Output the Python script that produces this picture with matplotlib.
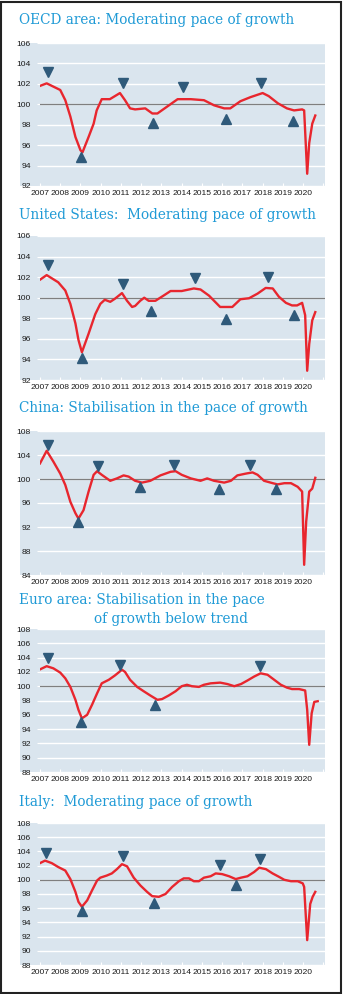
import matplotlib
matplotlib.use("Agg")
import matplotlib.pyplot as plt
from matplotlib.patches import Rectangle

# colours
RED = "#e8262e"
BG = "#dae5ee"
MARK = "#2f5a7a"
TITLE = "#1f9ad6"

# --- data (year, CLI value) ---
oecd_x = [2007.0, 2007.33, 2008.0, 2008.25, 2008.5, 2008.75, 2009.0, 2009.1, 2009.4, 2009.65,
          2009.8, 2010.05, 2010.45, 2010.95, 2011.2, 2011.45, 2011.7, 2012.2, 2012.55, 2012.8,
          2013.3, 2013.8, 2014.45, 2015.1, 2015.6, 2016.1, 2016.4, 2016.9, 2017.4, 2018.0,
          2018.3, 2018.75, 2019.2, 2019.55, 2019.95, 2020.05, 2020.2, 2020.3, 2020.45, 2020.6]
oecd_y = [101.8, 102.05, 101.4, 100.4, 98.8, 96.8, 95.5, 95.3, 96.8, 98.1,
          99.4, 100.5, 100.5, 101.1, 100.4, 99.6, 99.5, 99.6, 99.1, 99.1,
          99.8, 100.5, 100.5, 100.4, 99.9, 99.6, 99.6, 100.3, 100.7, 101.1,
          100.8, 100.1, 99.6, 99.4, 99.5, 99.4, 93.2, 96.2, 98.1, 98.9]
oecd_peak_x = [2007.38, 2011.08, 2014.07, 2017.9]
oecd_peak_y = [103.2, 102.1, 101.7, 102.1]
oecd_trough_x = [2009.03, 2012.6, 2016.2, 2019.5]
oecd_trough_y = [94.8, 98.2, 98.6, 98.4]

us_x = [2007.0, 2007.33, 2007.9, 2008.25, 2008.5, 2008.75, 2008.9, 2009.07, 2009.4, 2009.73,
        2009.98, 2010.2, 2010.47, 2010.7, 2011.05, 2011.3, 2011.55, 2011.7, 2011.95, 2012.15,
        2012.37, 2012.7, 2013.1, 2013.45, 2014.0, 2014.6, 2014.93, 2015.35, 2015.9, 2016.5,
        2016.9, 2017.33, 2017.75, 2018.15, 2018.5, 2018.8, 2019.15, 2019.45, 2019.7, 2019.95,
        2020.1, 2020.2, 2020.3, 2020.45, 2020.6]
us_y = [101.75, 102.2, 101.5, 100.7, 99.4, 97.5, 95.9, 94.7, 96.5, 98.4,
        99.4, 99.8, 99.6, 99.9, 100.45, 99.7, 99.1, 99.2, 99.7, 100.0,
        99.7, 99.7, 100.2, 100.65, 100.65, 100.9, 100.8, 100.2, 99.1, 99.1,
        99.85, 99.95, 100.4, 100.95, 100.9, 100.1, 99.5, 99.25, 99.25, 99.5,
        98.3, 92.9, 95.5, 97.8, 98.6]
us_peak_x = [2007.38, 2011.08, 2014.68, 2018.24]
us_peak_y = [103.2, 101.35, 101.95, 102.0]
us_trough_x = [2009.07, 2012.5, 2016.17, 2019.53]
us_trough_y = [94.1, 98.7, 97.95, 98.3]

cn_x = [2007.0, 2007.33, 2007.66, 2008.0, 2008.25, 2008.5, 2008.75, 2008.9, 2009.15, 2009.4,
        2009.65, 2009.82, 2010.05, 2010.47, 2010.8, 2011.13, 2011.38, 2011.7, 2012.04, 2012.45,
        2012.95, 2013.45, 2013.7, 2014.0, 2014.45, 2014.93, 2015.26, 2015.6, 2016.1, 2016.43,
        2016.75, 2017.17, 2017.5, 2017.75, 2018.07, 2018.5, 2018.74, 2019.07, 2019.4, 2019.73,
        2019.95, 2020.05, 2020.15, 2020.3, 2020.45, 2020.6]
cn_y = [102.6, 104.7, 102.9, 100.9, 99.0, 96.2, 94.3, 93.4, 94.8, 97.9,
        100.7, 101.3, 100.7, 99.7, 100.1, 100.6, 100.4, 99.7, 99.4, 99.7,
        100.6, 101.2, 101.3, 100.7, 100.1, 99.7, 100.1, 99.7, 99.4, 99.7,
        100.6, 100.9, 101.1, 100.7, 99.7, 99.3, 99.1, 99.3, 99.3, 98.7,
        97.9, 85.7, 92.9, 97.9, 98.4, 100.2]
cn_peak_x = [2007.41, 2009.86, 2013.6, 2017.38]
cn_peak_y = [105.6, 102.2, 102.4, 102.3]
cn_trough_x = [2008.87, 2011.96, 2015.84, 2018.67]
cn_trough_y = [92.9, 98.6, 98.4, 98.3]

ea_x = [2007.0, 2007.33, 2007.66, 2008.0, 2008.25, 2008.5, 2008.75, 2008.9, 2009.07, 2009.33,
        2009.57, 2009.82, 2010.05, 2010.4, 2010.7, 2011.05, 2011.2, 2011.45, 2011.8, 2012.12,
        2012.45, 2012.8, 2013.03, 2013.36, 2013.7, 2014.0, 2014.26, 2014.5, 2014.85, 2015.1,
        2015.43, 2015.9, 2016.26, 2016.6, 2016.93, 2017.25, 2017.58, 2017.9, 2018.24, 2018.57,
        2018.9, 2019.2, 2019.45, 2019.8, 2020.1, 2020.2, 2020.3, 2020.42, 2020.55, 2020.72]
ea_y = [102.35, 102.8, 102.5, 101.9, 101.1, 99.9, 98.1, 96.7, 95.5, 96.0,
        97.4, 99.0, 100.4, 100.9, 101.5, 102.3, 102.0, 100.9, 99.9, 99.3,
        98.7, 98.1, 98.2, 98.7, 99.3, 100.0, 100.2, 100.0, 99.9, 100.2,
        100.4, 100.5, 100.3, 100.0, 100.3, 100.8, 101.35, 101.8, 101.6, 100.9,
        100.2, 99.8, 99.6, 99.6, 99.4, 96.7, 91.8, 96.2, 97.8, 97.9]
ea_peak_x = [2007.41, 2010.97, 2017.88]
ea_peak_y = [104.0, 103.0, 102.8]
ea_trough_x = [2009.03, 2012.67]
ea_trough_y = [95.0, 97.4]

it_x = [2007.0, 2007.25, 2007.58, 2007.9, 2008.25, 2008.5, 2008.75, 2008.9, 2009.07, 2009.33,
        2009.57, 2009.82, 2009.98, 2010.3, 2010.55, 2010.8, 2011.05, 2011.3, 2011.63, 2011.96,
        2012.29, 2012.54, 2012.87, 2013.2, 2013.53, 2013.86, 2014.1, 2014.36, 2014.6, 2014.85,
        2015.1, 2015.43, 2015.68, 2016.0, 2016.34, 2016.67, 2016.93, 2017.25, 2017.58, 2017.83,
        2018.16, 2018.49, 2018.82, 2019.07, 2019.4, 2019.73, 2019.98, 2020.05, 2020.2, 2020.35,
        2020.47, 2020.6]
it_y = [102.35, 102.7, 102.35, 101.8, 101.3, 100.1, 98.3, 96.9, 96.2, 97.1,
        98.5, 99.9, 100.3, 100.6, 100.9, 101.5, 102.2, 101.9, 100.3, 99.2,
        98.3, 97.7, 97.6, 98.0, 99.0, 99.8, 100.2, 100.2, 99.8, 99.8,
        100.3, 100.5, 100.9, 100.8, 100.5, 100.1, 100.3, 100.5, 101.1, 101.7,
        101.5, 100.9, 100.4, 100.0, 99.8, 99.8, 99.5, 99.0, 91.5, 96.6,
        97.6, 98.3]
it_peak_x = [2007.28, 2011.1, 2015.87, 2017.88]
it_peak_y = [103.8, 103.4, 102.15, 102.95]
it_trough_x = [2009.07, 2012.65, 2016.7]
it_trough_y = [95.6, 96.7, 99.3]

years = list(range(2007, 2022))
year_labels = [str(y) if y < 2021 else "" for y in years]

panels = [
    ("OECD area: Moderating pace of growth", None, oecd_x, oecd_y, oecd_peak_x, oecd_peak_y,
     oecd_trough_x, oecd_trough_y, (92, 106), range(92, 107, 2), 43, 186, 20),
    ("United States:  Moderating pace of growth", None, us_x, us_y, us_peak_x, us_peak_y,
     us_trough_x, us_trough_y, (92, 106), range(92, 107, 2), 236, 380, 215),
    ("China: Stabilisation in the pace of growth", None, cn_x, cn_y, cn_peak_x, cn_peak_y,
     cn_trough_x, cn_trough_y, (84, 108), range(84, 109, 4), 431, 575, 408),
    ("Euro area: Stabilisation in the pace", "of growth below trend", ea_x, ea_y, ea_peak_x, ea_peak_y,
     ea_trough_x, ea_trough_y, (88, 108), range(88, 109, 2), 629, 772, 600),
    ("Italy:  Moderating pace of growth", None, it_x, it_y, it_peak_x, it_peak_y,
     it_trough_x, it_trough_y, (88, 108), range(88, 109, 2), 823, 965, 802),
]

W, H = 343, 994
fig = plt.figure(figsize=(W / 100, H / 100), dpi=100)
fig.patch.set_facecolor("white")

tickfont = {"family": "Liberation Sans", "size": 6.1}

for (title, title2, xs, ys, px, py, tx, ty, ylim, yticks, top, bot, ty_title) in panels:
    ax = fig.add_axes([40 / W, 1 - bot / H, 285 / W, (bot - top) / H])
    ax.set_facecolor("none")
    # blue panel extends under the y tick labels
    ax.add_patch(Rectangle((-20 / 285, 0), 1 + 20 / 285, 1, transform=ax.transAxes,
                           clip_on=False, color=BG, zorder=0, lw=0))
    ax.set_xlim(2007, 2021.08)
    ax.set_ylim(*ylim)
    ax.set_yticks(list(yticks))
    ax.set_xticks(years)
    ax.set_xticklabels(year_labels, fontdict=tickfont, color="#1a1a1a")
    ax.set_yticklabels([str(v) for v in yticks], fontdict=tickfont, color="#1a1a1a")
    ax.grid(axis="y", color="white", lw=1.0, zorder=1)
    ax.axhline(100, color="#7f7f7f", lw=0.9, zorder=2)
    for s in ax.spines.values():
        s.set_visible(False)
    ax.tick_params(axis="y", length=2.5, color="white", pad=4.0)
    ax.tick_params(axis="x", direction="in", length=2.5, color="white", pad=3)
    ax.set_axisbelow(True)
    ax.plot(xs, ys, color=RED, lw=1.7, zorder=3, solid_joinstyle="round")
    ax.plot(px, py, ls="none", marker="v", ms=7.5, color=MARK, zorder=4)
    ax.plot(tx, ty, ls="none", marker="^", ms=7.5, color=MARK, zorder=4)
    fig.text(19 / W, 1 - ty_title / H, title, color=TITLE, fontsize=9.8,
             family="DejaVu Serif", va="center", ha="left")
    if title2 is not None:
        fig.text(94 / W, 1 - (ty_title + 19) / H, title2, color=TITLE, fontsize=9.8,
                 family="DejaVu Serif", va="center", ha="left")

# outer frame
fig.add_artist(Rectangle((1 / W, 1 / H), (W - 3) / W, (H - 3) / H, transform=fig.transFigure,
                         fill=False, ec="#222222", lw=1.5))

fig.savefig("out.png", dpi=100)
